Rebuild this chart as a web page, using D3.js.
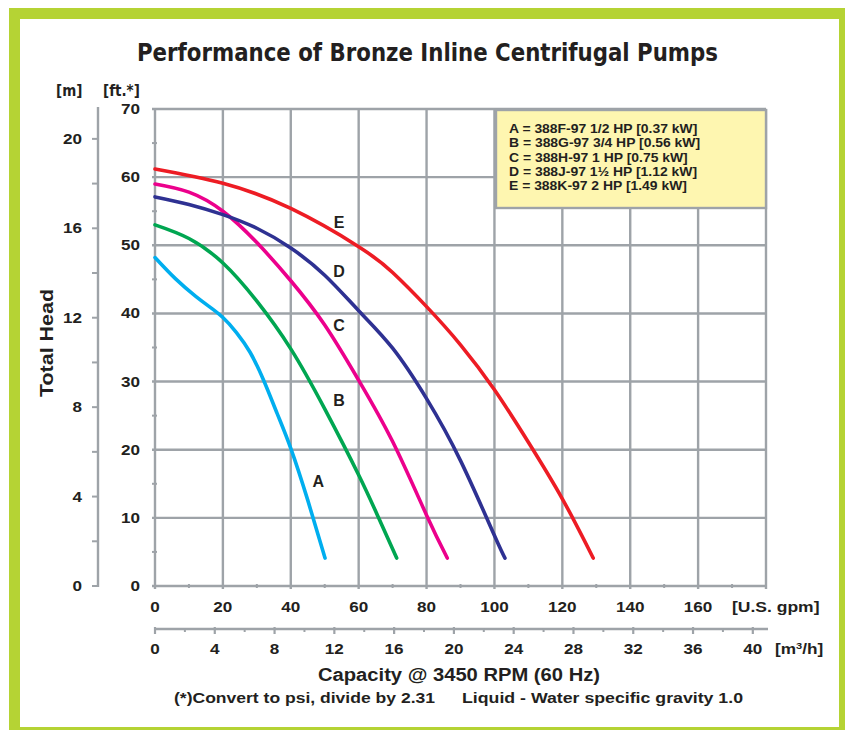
<!DOCTYPE html>
<html>
<head>
<meta charset="utf-8">
<script src="https://cdn.jsdelivr.net/npm/d3@7"></script>
<style>
  body { margin: 0; background: #fff; }
  text { font-family: "Liberation Sans", Arial, sans-serif; font-weight: bold; fill: #231f20; }
  .narrow { font-family: "Liberation Sans Narrow", "DejaVu Sans Condensed", "Liberation Sans", sans-serif; }
</style>
</head>
<body>
<div id="chart"></div>
<script>
// pump curves: [U.S. gpm, head ft]
var curveA = [[0,48.2],[6,45.1],[12,42.5],[16,41.0],[20,39.4],[24,37.2],[28,34.3],[32,30.2],[36,25.3],[40,20.2],[45,12.6],[50.1,4.1]];
var curveB = [[0,53],[10,51.0],[20,47.4],[30,41.8],[40,34.8],[50,26.0],[60,16.3],[65.7,10.2],[71.2,4.1]];
var curveC = [[0,59],[10,57.8],[20,55.0],[30,50.4],[40,44.8],[50,38.3],[60,30.2],[70,21.2],[80,10.4],[86.1,4.1]];
var curveD = [[0,57.1],[10,56.0],[20,54.5],[30,52.5],[40,49.6],[50,45.6],[60,40.4],[70,34.9],[80,27.5],[90,18.4],[100,7.4],[103.1,4.1]];
var curveE = [[0,61.2],[20,59.1],[40,55.4],[60,49.8],[70,46.0],[80,41.0],[90,35.4],[100,28.8],[110,21.1],[120,12.8],[129.1,4.1]];

var seriesNames = ["A","B","C","D","E"];
var seriesColors = ["#00aeef","#00a651","#ec008c","#2e3192","#ed1c24"];
var seriesData = [curveA, curveB, curveC, curveD, curveE];
// where each letter sits: [gpm, ft]
var labelPos = [[48.1,15.3],[54.2,27.3],[54.2,38.2],[54.2,46.1],[54.2,53.3]];

var legendLines = [
  "A = 388F-97 1/2 HP [0.37 kW]",
  "B = 388G-97 3/4 HP [0.56 kW]",
  "C = 388H-97 1 HP [0.75 kW]",
  "D = 388J-97 1\u00bd HP [1.12 kW]",
  "E = 388K-97 2 HP [1.49 kW]"
];

var ftTicks = [0,10,20,30,40,50,60,70];
var ftMinor = [5,15,25,35,45,55,65];
var mTicks = [0,4,8,12,16,20];
var mMinor = [2,6,10,14,18];
var gpmTicks = [0,20,40,60,80,100,120,140,160,180];
var gpmLabels = [0,20,40,60,80,100,120,140,160];
var gpmMinor = [10,30,50,70,90,110,130,150,170];
var m3hTicks = [0,4,8,12,16,20,24,28,32,36,40];
var m3hMinor = [2,6,10,14,18,22,26,30,34,38];

var W = 845, H = 730;
var grid = "#9ea3a8";

// the reference lettering runs wider than Arial, so stretch it
function stretch(sel, k) {
  sel.each(function() {
    var l = this.getComputedTextLength();
    d3.select(this).attr("textLength", l * k).attr("lengthAdjust", "spacingAndGlyphs");
  });
}

var svg = d3.select("#chart").append("svg")
  .attr("width", W).attr("height", H);

// green frame
svg.append("rect")
  .attr("x", 14.5).attr("y", 13.5)
  .attr("width", 830).attr("height", 719)
  .attr("fill", "#fff")
  .attr("stroke", "#b5d334").attr("stroke-width", 11);

var x = d3.scaleLinear().domain([0,180]).range([155,766]);
var y = d3.scaleLinear().domain([0,70]).range([586,109]);
var ym = d3.scaleLinear().domain([0,70/3.2808]).range([586,109]);
var xm = d3.scaleLinear().domain([0,180/4.4029]).range([155,766]);

// grid
var g = svg.append("g");
g.selectAll(".hg").data(ftTicks).enter().append("line")
  .attr("x1", 152).attr("x2", 766)
  .attr("y1", function(d){ return y(d); }).attr("y2", function(d){ return y(d); })
  .attr("stroke", grid).attr("stroke-width", 2.4);
g.selectAll(".vg").data(gpmTicks).enter().append("line")
  .attr("x1", function(d){ return x(d); }).attr("x2", function(d){ return x(d); })
  .attr("y1", 109).attr("y2", 589)
  .attr("stroke", grid).attr("stroke-width", 2.4);
g.selectAll(".hm").data(ftMinor).enter().append("line")
  .attr("x1", 152).attr("x2", 157)
  .attr("y1", function(d){ return y(d); }).attr("y2", function(d){ return y(d); })
  .attr("stroke", grid).attr("stroke-width", 2);
g.selectAll(".vm").data(gpmMinor).enter().append("line")
  .attr("x1", function(d){ return x(d); }).attr("x2", function(d){ return x(d); })
  .attr("y1", 584).attr("y2", 588)
  .attr("stroke", grid).attr("stroke-width", 2);

// ft labels
var ftl = svg.selectAll(".ftl").data(ftTicks).enter().append("text")
  .attr("x", 140).attr("y", function(d){ return y(d) + 5; })
  .attr("text-anchor", "end").attr("font-size", 14)
  .text(function(d){ return d; });
stretch(ftl, 1.22);

// metre axis
var mAx = svg.append("g");
mAx.append("line").attr("x1", 98).attr("x2", 98).attr("y1", 107).attr("y2", 587)
  .attr("stroke", grid).attr("stroke-width", 2.4);
mAx.selectAll(".mt").data(mTicks.concat(mMinor)).enter().append("line")
  .attr("x1", 92).attr("x2", 98)
  .attr("y1", function(d){ return ym(d); }).attr("y2", function(d){ return ym(d); })
  .attr("stroke", grid).attr("stroke-width", 2);
var ml = mAx.selectAll(".ml").data(mTicks).enter().append("text")
  .attr("x", 82).attr("y", function(d){ return ym(d) + 5; })
  .attr("text-anchor", "end").attr("font-size", 14)
  .text(function(d){ return d; });
stretch(ml, 1.22);

// gpm labels
var gl = svg.selectAll(".gl").data(gpmLabels).enter().append("text")
  .attr("x", function(d){ return x(d); }).attr("y", 612)
  .attr("text-anchor", "middle").attr("font-size", 14)
  .text(function(d){ return d; });
stretch(gl, 1.22);
stretch(svg.append("text").attr("x", 732).attr("y", 612).attr("font-size", 14).text("[U.S. gpm]"), 1.25);

// m3/h axis
var hAx = svg.append("g");
hAx.append("line").attr("x1", 155).attr("x2", 768).attr("y1", 629).attr("y2", 629)
  .attr("stroke", grid).attr("stroke-width", 2.4);
hAx.selectAll(".ht").data(m3hTicks).enter().append("line")
  .attr("x1", function(d){ return xm(d); }).attr("x2", function(d){ return xm(d); })
  .attr("y1", 627).attr("y2", 634)
  .attr("stroke", grid).attr("stroke-width", 2.2);
hAx.selectAll(".hmi").data(m3hMinor).enter().append("line")
  .attr("x1", function(d){ return xm(d); }).attr("x2", function(d){ return xm(d); })
  .attr("y1", 628).attr("y2", 632)
  .attr("stroke", grid).attr("stroke-width", 2);
var hl = hAx.selectAll(".hl").data(m3hTicks).enter().append("text")
  .attr("x", function(d){ return xm(d); }).attr("y", 654)
  .attr("text-anchor", "middle").attr("font-size", 14)
  .text(function(d){ return d; });
stretch(hl, 1.22);
var mh = svg.append("g").attr("transform", "translate(775,654) scale(1.23,1)")
  .append("text").attr("font-size", 14);
mh.append("tspan").text("[m");
mh.append("tspan").attr("dy", -5).attr("font-size", 9).text("3");
mh.append("tspan").attr("dy", 5).text("/h]");

// curves
var line = d3.line()
  .x(function(d){ return x(d[0]); })
  .y(function(d){ return y(d[1]); })
  .curve(d3.curveNatural);
svg.selectAll(".curve").data(seriesData).enter().append("path")
  .attr("d", line)
  .attr("fill", "none")
  .attr("stroke", function(d, i){ return seriesColors[i]; })
  .attr("stroke-width", 3.6)
  .attr("stroke-linecap", "round");

svg.selectAll(".cl").data(seriesNames).enter().append("text")
  .attr("x", function(d, i){ return x(labelPos[i][0]); })
  .attr("y", function(d, i){ return y(labelPos[i][1]); })
  .attr("text-anchor", "middle").attr("dy", "0.35em").attr("font-size", 16)
  .text(function(d){ return d; });

// legend
svg.append("rect").attr("x", 496).attr("y", 110).attr("width", 270).attr("height", 98)
  .attr("fill", "#fef6b0").attr("stroke", grid).attr("stroke-width", 2.4);
var lg = svg.selectAll(".lg").data(legendLines).enter().append("text")
  .attr("x", 509).attr("y", function(d, i){ return 133 + i * 14.3; })
  .attr("font-size", 13)
  .text(function(d){ return d; });
stretch(lg, 1.07);

// titles
svg.append("text").attr("class", "narrow")
  .attr("x", 427.5).attr("y", 61).attr("text-anchor", "middle").attr("font-size", 24)
  .attr("textLength", 581).attr("lengthAdjust", "spacingAndGlyphs")
  .text("Performance of Bronze Inline Centrifugal Pumps");
svg.append("text").attr("class", "narrow").attr("x", 56).attr("y", 96).attr("font-size", 15).text("[m]");
svg.append("text").attr("class", "narrow").attr("x", 103).attr("y", 96).attr("font-size", 15).text("[ft.*]");
svg.append("text")
  .attr("transform", "translate(53,343) rotate(-90)")
  .attr("text-anchor", "middle").attr("font-size", 19)
  .attr("textLength", 108).attr("lengthAdjust", "spacingAndGlyphs")
  .text("Total Head");
svg.append("text").attr("x", 459).attr("y", 681).attr("text-anchor", "middle").attr("font-size", 18)
  .attr("textLength", 282).attr("lengthAdjust", "spacingAndGlyphs")
  .text("Capacity @ 3450 RPM (60 Hz)");
svg.append("text").attr("x", 174).attr("y", 703).attr("font-size", 15)
  .attr("textLength", 261).attr("lengthAdjust", "spacingAndGlyphs")
  .text("(*)Convert to psi, divide by 2.31");
svg.append("text").attr("x", 462).attr("y", 703).attr("font-size", 15)
  .attr("textLength", 281).attr("lengthAdjust", "spacingAndGlyphs")
  .text("Liquid - Water specific gravity 1.0");
</script>
</body>
</html>
